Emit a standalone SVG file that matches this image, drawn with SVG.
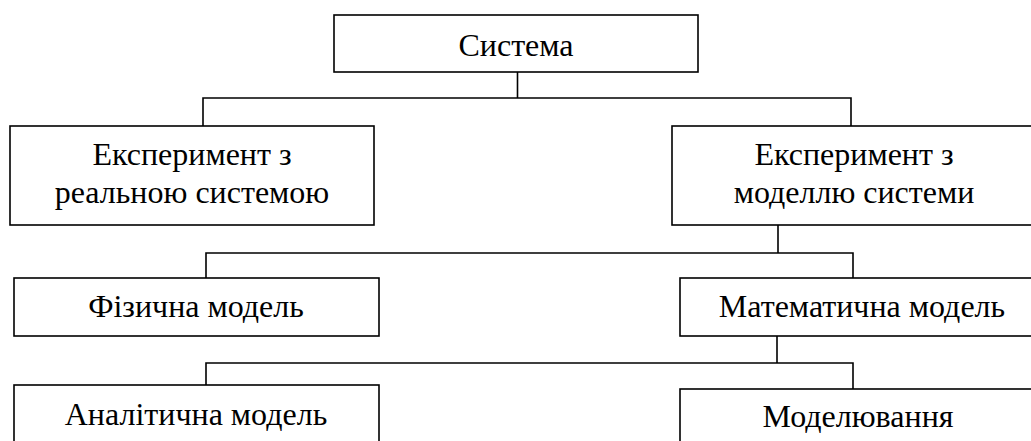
<svg xmlns="http://www.w3.org/2000/svg" width="1031" height="441" viewBox="0 0 1031 441">
  <style>
    .box { fill: #ffffff; stroke: #000000; stroke-width: 1.6; }
    .wire { fill: none; stroke: #000000; stroke-width: 1.6; }
    .lbl { font-family: "Liberation Serif", "Times New Roman", "DejaVu Serif", serif; font-size: 32px; fill: #000000; text-anchor: middle; }
  </style>
  <rect width="1031" height="441" fill="#ffffff"/>

  <!-- tree connectors -->
  <g id="connectors">
    <path class="wire" d="M517.5,72 V98 M203,126 V98 H851 V126"/>
    <path class="wire" d="M778,225 V253 M206,278 V253 H853 V278"/>
    <path class="wire" d="M777,336 V363 M206,385 V363 H853 V389"/>
  </g>

  <g id="system">
    <rect class="box" x="334" y="15" width="364" height="57"/>
    <text class="lbl" x="516" y="56">Система</text>
  </g>

  <g id="real-experiment">
    <rect class="box" x="10" y="126" width="364" height="99"/>
    <text class="lbl" x="192" y="165">Експеримент з</text>
    <text class="lbl" x="192" y="203">реальною системою</text>
  </g>

  <g id="model-experiment">
    <rect class="box" x="672" y="126" width="364" height="99"/>
    <text class="lbl" x="854" y="165">Експеримент з</text>
    <text class="lbl" x="854" y="203">моделлю системи</text>
  </g>

  <g id="physical-model">
    <rect class="box" x="14" y="278" width="365" height="58"/>
    <text class="lbl" x="196" y="317">Фізична модель</text>
  </g>

  <g id="math-model">
    <rect class="box" x="680" y="278" width="365" height="58"/>
    <text class="lbl" x="862" y="317">Математична модель</text>
  </g>

  <g id="analytic-model">
    <rect class="box" x="14" y="385" width="365" height="80"/>
    <text class="lbl" x="196" y="425">Аналітична модель</text>
  </g>

  <g id="simulation">
    <rect class="box" x="680" y="389" width="365" height="80"/>
    <text class="lbl" x="858" y="427">Моделювання</text>
  </g>
</svg>
